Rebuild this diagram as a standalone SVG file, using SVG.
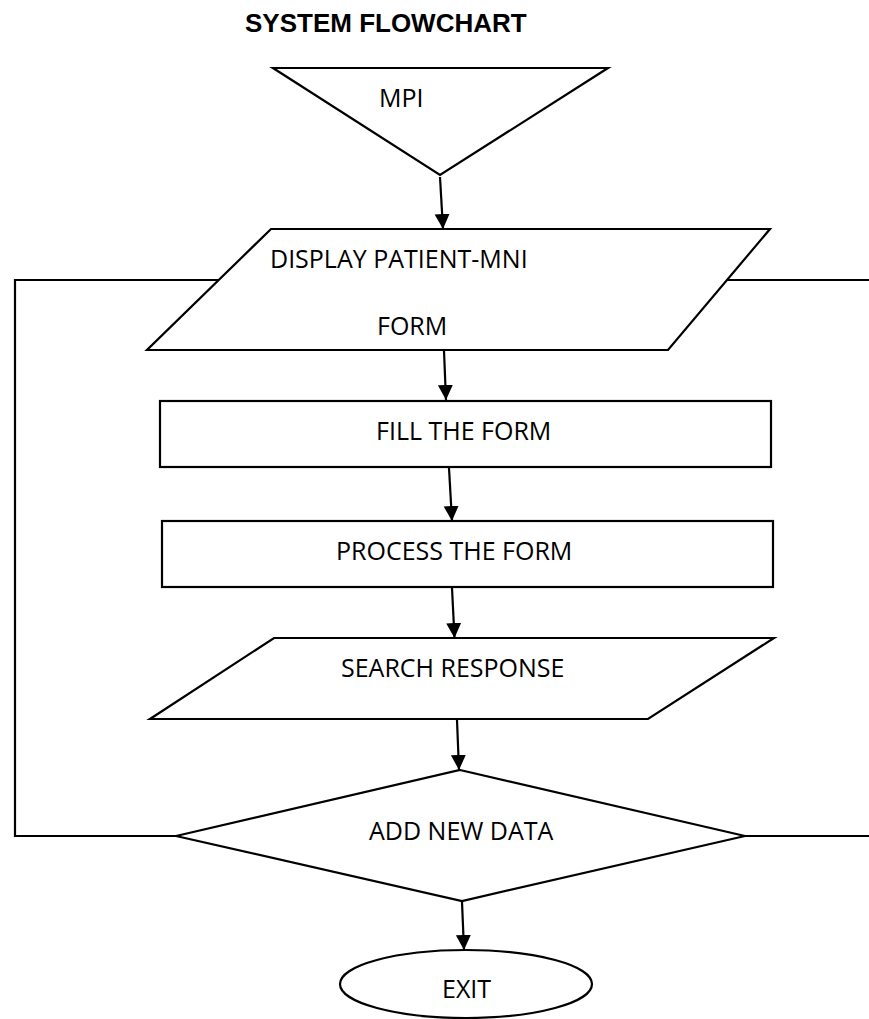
<svg xmlns="http://www.w3.org/2000/svg" width="869" height="1019" viewBox="0 0 869 1019">
<style>
.shape{fill:#fff;stroke:#000;stroke-width:2.2}
.line{fill:none;stroke:#000;stroke-width:2.2}
.lbl{font-family:"Open Sans","Liberation Sans",sans-serif;font-size:25px;fill:#000}
.title{font-family:"Liberation Sans",Arial,sans-serif;font-size:26px;font-weight:bold;fill:#000}
</style>
<defs>
<marker id="arr" markerUnits="userSpaceOnUse" markerWidth="16" markerHeight="16" refX="15" refY="7.5" orient="auto">
<path d="M0,0 L15,7.5 L0,15 Z" fill="#000"/>
</marker>
</defs>
<rect width="869" height="1019" fill="#fff"/>
<text class="title" x="245" y="32">SYSTEM FLOWCHART</text>
<g id="connectors">
<path class="line" d="M440,177 L443,229" marker-end="url(#arr)"/>
<path class="line" d="M444,351 L446,400" marker-end="url(#arr)"/>
<path class="line" d="M449,468 L452,521" marker-end="url(#arr)"/>
<path class="line" d="M452,588 L454.5,638" marker-end="url(#arr)"/>
<path class="line" d="M457,720 L459,770" marker-end="url(#arr)"/>
<path class="line" d="M462,902 L464,950" marker-end="url(#arr)"/>
<path class="line" d="M176,836 H15 V280 H219"/>
<path class="line" d="M727,280 H870"/>
<path class="line" d="M745,836 H870"/>
</g>
<g id="mpi">
<polygon class="shape" points="273,68 608,68 440,175"/>
<text class="lbl" x="379" y="107">MPI</text>
</g>
<g id="display">
<polygon class="shape" points="271,229 770,229 668,350 147,350"/>
<text class="lbl" x="270" y="268">DISPLAY PATIENT-MNI</text>
<text class="lbl" x="377" y="335">FORM</text>
</g>
<g id="fill">
<rect class="shape" x="160" y="401" width="611" height="66"/>
<text class="lbl" x="376" y="440">FILL THE FORM</text>
</g>
<g id="process">
<rect class="shape" x="162" y="521" width="611" height="66"/>
<text class="lbl" x="336" y="560">PROCESS THE FORM</text>
</g>
<g id="search">
<polygon class="shape" points="274,638 774,638 648,719 150,719"/>
<text class="lbl" x="341" y="677">SEARCH RESPONSE</text>
</g>
<g id="decision">
<polygon class="shape" points="460,770 745,836 462,901 176,836"/>
<text class="lbl" x="369" y="840">ADD NEW DATA</text>
</g>
<g id="exit">
<ellipse class="shape" cx="466" cy="984" rx="126" ry="34"/>
<text class="lbl" x="442" y="998">EXIT</text>
</g>
</svg>
